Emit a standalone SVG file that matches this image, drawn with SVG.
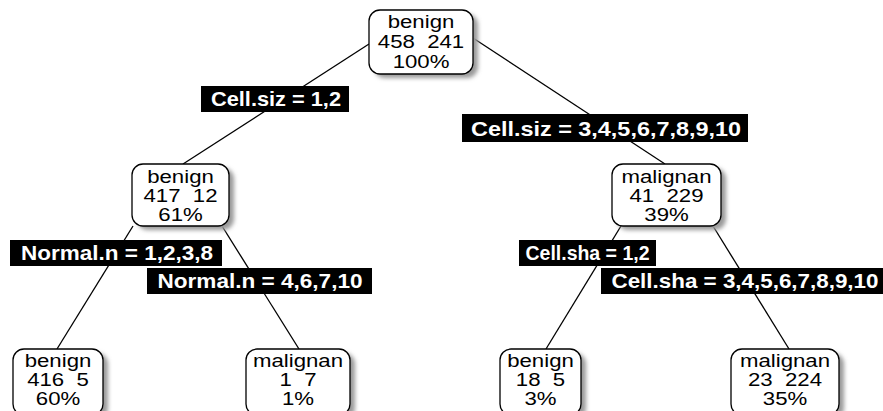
<svg xmlns="http://www.w3.org/2000/svg" width="883" height="411" viewBox="0 0 883 411">
  <defs>
    <filter id="soft" x="-20%" y="-20%" width="140%" height="140%">
      <feGaussianBlur stdDeviation="2"/>
    </filter>
  </defs>
  <style>
    .edge { stroke: #000; stroke-width: 1.3; fill: none; }
    .shadow { fill: #9a9a9a; filter: url(#soft); }
    .box { fill: #fff; stroke: #000; stroke-width: 1.3; }
    .ntext { font-family: "Liberation Sans", Arial, sans-serif; font-size: 18.5px; fill: #000; text-anchor: middle; }
    .lbl { fill: #000; }
    .ltext { font-family: "Liberation Sans", Arial, sans-serif; font-weight: bold; font-size: 21px; fill: #fff; text-anchor: middle; }
  </style>
  <rect width="883" height="411" fill="#fff"/>

  <!-- branch lines -->
  <g id="connectors">
    <line class="edge" x1="369" y1="44" x2="183" y2="164"/>
    <line class="edge" x1="473" y1="38" x2="665" y2="164"/>
    <line class="edge" x1="133" y1="226" x2="57" y2="349"/>
    <line class="edge" x1="222" y1="226" x2="299" y2="349"/>
    <line class="edge" x1="621" y1="226" x2="546" y2="349"/>
    <line class="edge" x1="713" y1="226" x2="789" y2="349"/>
  </g>

  <!-- split labels -->
  <g id="split-labels">
    <rect class="lbl" x="201" y="86" width="148" height="26"/>
    <text class="ltext" x="276" y="106" textLength="130" lengthAdjust="spacingAndGlyphs">Cell.siz = 1,2</text>
    <rect class="lbl" x="462" y="114" width="286" height="28"/>
    <text class="ltext" x="606" y="136" textLength="270" lengthAdjust="spacingAndGlyphs">Cell.siz = 3,4,5,6,7,8,9,10</text>
    <rect class="lbl" x="10" y="240" width="212" height="26"/>
    <text class="ltext" x="117" y="260" textLength="192" lengthAdjust="spacingAndGlyphs">Normal.n = 1,2,3,8</text>
    <rect class="lbl" x="147" y="268" width="225" height="26"/>
    <text class="ltext" x="260" y="288" textLength="205" lengthAdjust="spacingAndGlyphs">Normal.n = 4,6,7,10</text>
    <rect class="lbl" x="519" y="240" width="137" height="26"/>
    <text class="ltext" x="587.5" y="260" textLength="124" lengthAdjust="spacingAndGlyphs">Cell.sha = 1,2</text>
    <rect class="lbl" x="601" y="268" width="282" height="26"/>
    <text class="ltext" x="745" y="288" textLength="267" lengthAdjust="spacingAndGlyphs">Cell.sha = 3,4,5,6,7,8,9,10</text>
  </g>

  <!-- root -->
  <g id="node-root">
    <rect class="shadow" x="374" y="14" width="104" height="64" rx="11"/>
    <rect class="box" x="369" y="10" width="104" height="64" rx="11"/>
    <g transform="translate(421 0) scale(1.2 1)">
      <text class="ntext" x="0" y="28">benign</text>
      <text class="ntext" x="0" y="48" xml:space="preserve">458  241</text>
      <text class="ntext" x="0" y="68">100%</text>
    </g>
  </g>

  <g id="node-2">
    <rect class="shadow" x="137" y="168" width="97" height="62" rx="11"/>
    <rect class="box" x="132" y="164" width="97" height="62" rx="11"/>
    <g transform="translate(180.5 0) scale(1.2 1)">
      <text class="ntext" x="0" y="183">benign</text>
      <text class="ntext" x="0" y="202" xml:space="preserve">417  12</text>
      <text class="ntext" x="0" y="221">61%</text>
    </g>
  </g>

  <g id="node-3">
    <rect class="shadow" x="617" y="168" width="109" height="62" rx="11"/>
    <rect class="box" x="612" y="164" width="109" height="62" rx="11"/>
    <g transform="translate(666.5 0) scale(1.2 1)">
      <text class="ntext" x="0" y="183">malignan</text>
      <text class="ntext" x="0" y="202" xml:space="preserve">41  229</text>
      <text class="ntext" x="0" y="221">39%</text>
    </g>
  </g>

  <g id="leaf-4">
    <rect class="shadow" x="18" y="353" width="90" height="66" rx="11"/>
    <rect class="box" x="13" y="349" width="90" height="66" rx="11"/>
    <g transform="translate(58 0) scale(1.2 1)">
      <text class="ntext" x="0" y="367">benign</text>
      <text class="ntext" x="0" y="386" xml:space="preserve">416  5</text>
      <text class="ntext" x="0" y="405">60%</text>
    </g>
  </g>

  <g id="leaf-5">
    <rect class="shadow" x="251" y="353" width="104" height="66" rx="11"/>
    <rect class="box" x="246" y="349" width="104" height="66" rx="11"/>
    <g transform="translate(298 0) scale(1.2 1)">
      <text class="ntext" x="0" y="367">malignan</text>
      <text class="ntext" x="0" y="386" xml:space="preserve">1  7</text>
      <text class="ntext" x="0" y="405">1%</text>
    </g>
  </g>

  <g id="leaf-6">
    <rect class="shadow" x="505" y="353" width="81" height="66" rx="11"/>
    <rect class="box" x="500" y="349" width="81" height="66" rx="11"/>
    <g transform="translate(540.5 0) scale(1.2 1)">
      <text class="ntext" x="0" y="367">benign</text>
      <text class="ntext" x="0" y="386" xml:space="preserve">18  5</text>
      <text class="ntext" x="0" y="405">3%</text>
    </g>
  </g>

  <g id="leaf-7">
    <rect class="shadow" x="736" y="353" width="108" height="66" rx="11"/>
    <rect class="box" x="731" y="349" width="108" height="66" rx="11"/>
    <g transform="translate(785 0) scale(1.2 1)">
      <text class="ntext" x="0" y="367">malignan</text>
      <text class="ntext" x="0" y="386" xml:space="preserve">23  224</text>
      <text class="ntext" x="0" y="405">35%</text>
    </g>
  </g>
</svg>
